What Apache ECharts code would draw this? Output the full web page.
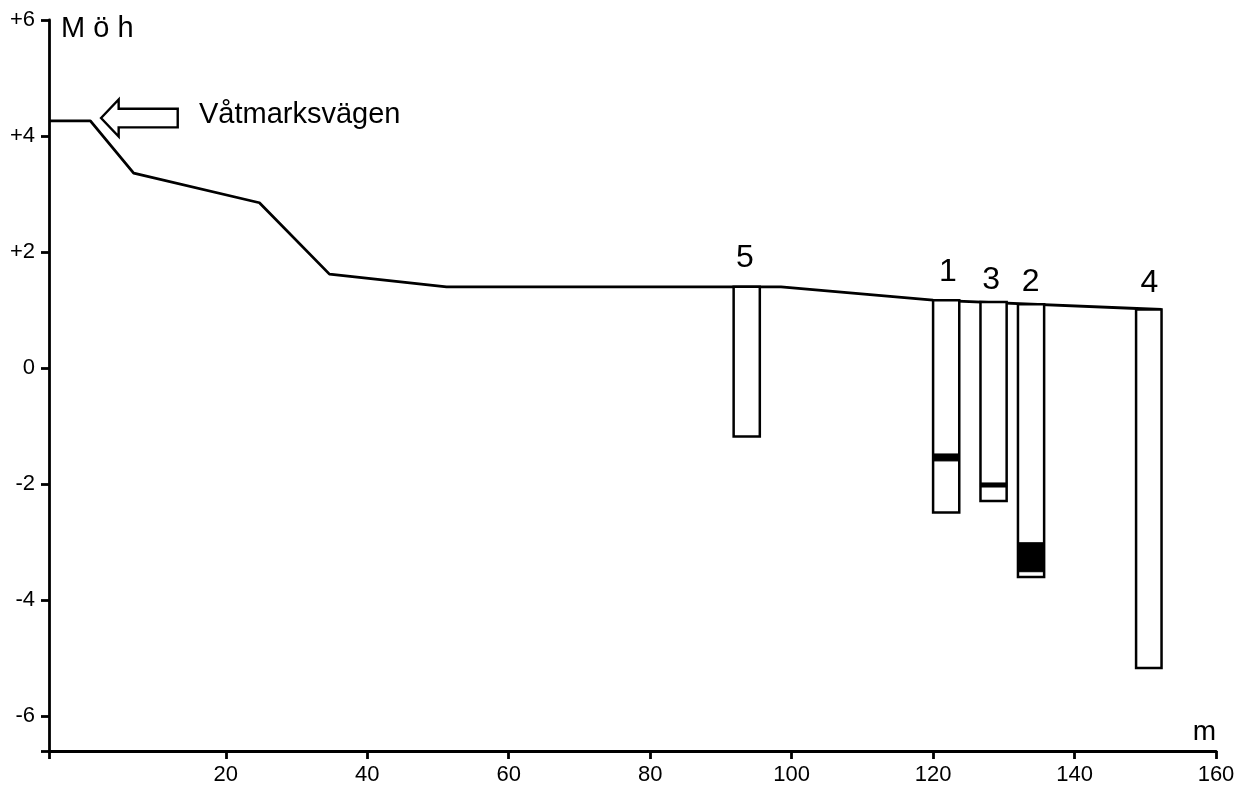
<!DOCTYPE html>
<html>
<head>
<meta charset="utf-8">
<script src="https://cdn.jsdelivr.net/npm/echarts@6/dist/echarts.min.js"></script>
<style>
html,body{margin:0;padding:0;background:#fff;}
#c{width:1246px;height:787px;}
</style>
</head>
<body>
<div id="c"></div>
<script>
// Ground surface profile (distance m, elevation m ö h)
const groundX = [-5, 0.85, 6.97, 24.75, 34.65, 51.2, 98.5, 120.0, 152.3];
const groundY = [4.26, 4.26, 3.36, 2.85, 1.62, 1.40, 1.40, 1.17, 1.01];

// Boreholes: left x, right x, top elevation, bottom elevation, name
const boreNames  = ['5', '1', '3', '2', '4'];
const boreLeft   = [91.8, 120.0, 126.7, 132.0, 148.7];
const boreRight  = [95.5, 123.7, 130.4, 135.7, 152.3];
const boreTop    = [1.40, 1.17, 1.14, 1.10, 1.01];
const boreBottom = [-1.18, -2.49, -2.29, -3.60, -5.17];

// Borehole label anchors (data units)
const labelX = [93.4, 122.1, 128.2, 133.8, 150.6];
const labelY = [1.71, 1.47, 1.32, 1.29, 1.27];

// Dark layers inside boreholes: left x, right x, upper elev, lower elev
const layerLeft  = [120.0, 126.7, 132.0];
const layerRight = [123.7, 130.4, 135.7];
const layerTop   = [-1.48, -1.98, -3.01];
const layerBot   = [-1.60, -2.05, -3.51];

// Arrow pointing to Våtmarksvägen (data units)
const arrowTipX = 2.36, arrowHeadX = 4.85, arrowTailX = 13.2, arrowY = 4.31;
const arrowHeadHalf = 0.32, arrowShaftHalf = 0.16;

// Axis ranges, ticks and tick labels
const xMin = -5, xMax = 160, yMin = -6.6, yMax = 6;
const xTicks = [-5, 20, 40, 60, 80, 100, 120, 140, 160];
const xLabels = [20, 40, 60, 80, 100, 120, 140, 160];
const yTicks = [-6.6, -6, -4, -2, 0, 2, 4, 6];
const yLabels = [-6, -4, -2, 0, 2, 4, 6];

const FAMILY = 'Liberation Sans, Arial, sans-serif';

const chart = echarts.init(document.getElementById('c'), null, {renderer: 'canvas'});

const groundData = groundX.map((x, i) => [x, groundY[i]]);
const boreData = boreLeft.map((x, i) => [x, boreRight[i], boreTop[i], boreBottom[i]]);
const layerData = layerLeft.map((x, i) => [x, layerRight[i], layerTop[i], layerBot[i]]);
const labelData = labelX.map((x, i) => [x, labelY[i]]);
const xLabelData = xLabels.map(v => [v, yMin]);
const yLabelData = yLabels.map(v => [xMin, v]);

chart.setOption({
  animation: false,
  backgroundColor: '#fff',
  grid: {left: 49, right: 30, top: 20, bottom: 36, containLabel: false},
  xAxis: {
    type: 'value', min: xMin, max: xMax,
    axisLine: {onZero: false, lineStyle: {color: '#000', width: 2.8}},
    axisTick: {show: true, length: 8, inside: false, customValues: xTicks, lineStyle: {color: '#000', width: 2.8}},
    axisLabel: {show: false},
    splitLine: {show: false}
  },
  yAxis: {
    type: 'value', min: yMin, max: yMax,
    axisLine: {show: true, onZero: false, lineStyle: {color: '#000', width: 2.8}},
    axisTick: {show: true, length: 8, inside: false, customValues: yTicks, lineStyle: {color: '#000', width: 2.8}},
    axisLabel: {show: false},
    splitLine: {show: false}
  },
  series: [
    {
      type: 'line', data: groundData, symbol: 'none', z: 2,
      lineStyle: {color: '#000', width: 2.8}
    },
    {
      type: 'custom', z: 3, data: boreData,
      renderItem: (params, api) => {
        const p0 = api.coord([api.value(0), api.value(2)]);
        const p1 = api.coord([api.value(1), api.value(3)]);
        return {
          type: 'rect',
          shape: {x: p0[0], y: p0[1], width: p1[0] - p0[0], height: p1[1] - p0[1]},
          style: {fill: '#fff', stroke: '#000', lineWidth: 2.5}
        };
      }
    },
    {
      type: 'custom', z: 4, data: layerData,
      renderItem: (params, api) => {
        const p0 = api.coord([api.value(0), api.value(2)]);
        const p1 = api.coord([api.value(1), api.value(3)]);
        return {
          type: 'rect',
          shape: {x: p0[0], y: p0[1], width: p1[0] - p0[0], height: p1[1] - p0[1]},
          style: {fill: '#000', stroke: '#000', lineWidth: 1}
        };
      }
    },
    {
      type: 'custom', z: 5, data: labelData,
      renderItem: (params, api) => {
        const p = api.coord([api.value(0), api.value(1)]);
        return {
          type: 'text',
          style: {text: boreNames[params.dataIndex], x: p[0], y: p[1] - 11,
            align: 'center', verticalAlign: 'middle',
            fontSize: 32, fontFamily: FAMILY, fill: '#000'}
        };
      }
    },
    {
      // x-axis tick labels
      type: 'custom', z: 5, clip: false, data: xLabelData,
      renderItem: (params, api) => {
        const p = api.coord([api.value(0), api.value(1)]);
        return {
          type: 'text',
          style: {text: String(xLabels[params.dataIndex]), x: p[0], y: p[1] + 24,
            align: 'center', verticalAlign: 'middle',
            fontSize: 22, fontFamily: FAMILY, fill: '#000'}
        };
      }
    },
    {
      // y-axis tick labels
      type: 'custom', z: 5, clip: false, data: yLabelData,
      renderItem: (params, api) => {
        const p = api.coord([api.value(0), api.value(1)]);
        const v = yLabels[params.dataIndex];
        return {
          type: 'text',
          style: {text: v > 0 ? '+' + v : String(v), x: p[0] - 14, y: p[1],
            align: 'right', verticalAlign: 'middle',
            fontSize: 22, fontFamily: FAMILY, fill: '#000'}
        };
      }
    },
    {
      type: 'custom', z: 5, data: [[arrowTipX, arrowY]],
      renderItem: (params, api) => {
        const pts = [
          [arrowTipX, arrowY],
          [arrowHeadX, arrowY + arrowHeadHalf],
          [arrowHeadX, arrowY + arrowShaftHalf],
          [arrowTailX, arrowY + arrowShaftHalf],
          [arrowTailX, arrowY - arrowShaftHalf],
          [arrowHeadX, arrowY - arrowShaftHalf],
          [arrowHeadX, arrowY - arrowHeadHalf]
        ].map(p => api.coord(p));
        return {
          type: 'polygon',
          shape: {points: pts},
          style: {fill: '#fff', stroke: '#000', lineWidth: 2.4}
        };
      }
    }
  ],
  graphic: [
    {type: 'text', left: 61, top: 14, style: {text: 'M ö h', fontSize: 29, fontFamily: FAMILY, fill: '#000'}},
    {type: 'text', left: 199, top: 100, style: {text: 'Våtmarksvägen', fontSize: 29, fontFamily: FAMILY, fill: '#000'}},
    {type: 'text', right: 30, top: 718, style: {text: 'm', fontSize: 28, fontFamily: FAMILY, fill: '#000'}}
  ]
});
</script>
</body>
</html>
